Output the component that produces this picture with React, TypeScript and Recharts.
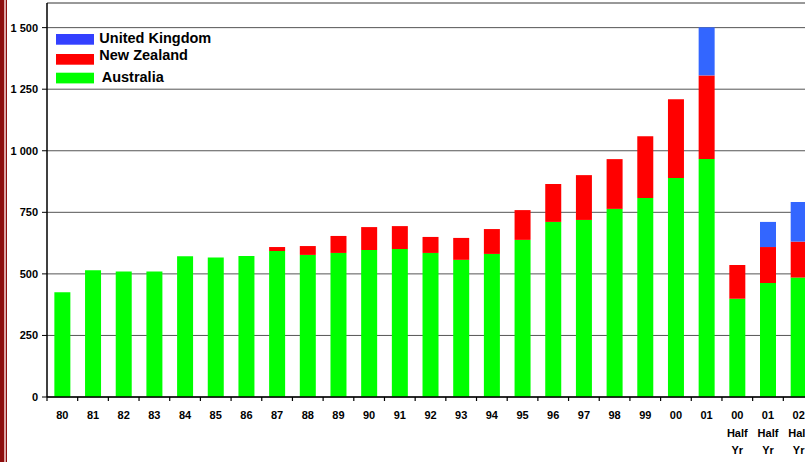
import { BarChart, Bar, XAxis, YAxis, CartesianGrid, ReferenceLine } from 'recharts';

// year labels; half-year entries are split on spaces into stacked lines
const categories = [
  '80', '81', '82', '83', '84', '85', '86', '87', '88', '89', '90', '91', '92',
  '93', '94', '95', '96', '97', '98', '99', '00', '01',
  '00 Half Yr', '01 Half Yr', '02 Half Yr',
];

const australia = [
  425, 515, 510, 510, 572, 567, 573, 593, 577, 585, 597, 601, 585,
  557, 581, 638, 711, 719, 764, 808, 889, 966,
  399, 463, 485,
];
const newZealand = [
  0, 0, 0, 0, 0, 0, 0, 16, 36, 69, 93, 93, 65,
  89, 101, 121, 154, 182, 202, 251, 320, 340,
  137, 146, 146,
];
const unitedKingdom = [
  0, 0, 0, 0, 0, 0, 0, 0, 0, 0, 0, 0, 0,
  0, 0, 0, 0, 0, 0, 0, 0, 195,
  0, 102, 161,
];

const yTicks = [0, 250, 500, 750, 1000, 1250, 1500];

const legendItems = [
  { name: 'United Kingdom', color: '#3340ff' },
  { name: 'New Zealand', color: '#ff0000' },
  { name: 'Australia', color: '#00ff00' },
];

const data = categories.map((c, i) => ({
  cat: c,
  aus: australia[i],
  nz: newZealand[i],
  uk: unitedKingdom[i],
}));

const FONT = '"Liberation Sans", Arial, sans-serif';
const CHART_W = 814;
const Y_W = 47;
const BAND = (CHART_W - Y_W) / categories.length;

function fmtY(v: number) {
  if (v >= 1000) return `${Math.floor(v / 1000)} ${String(v % 1000).padStart(3, '0')}`;
  return String(v);
}

function XTick({ x, y, payload }: { x: number; y: number; payload: { value: string } }) {
  const lines = String(payload.value).split(' ');
  const bx = x - BAND / 2;
  return (
    <g>
      <line x1={bx} x2={bx} y1={y} y2={y + 4} stroke="#000" strokeWidth={1.2} />
      <text x={x} y={y + 22} textAnchor="middle" fontSize={11} fontWeight="bold" fill="#000" fontFamily={FONT}>
        {lines.map((l, i) => (
          <tspan key={i} x={x} dy={i === 0 ? 0 : 17.5}>{l}</tspan>
        ))}
      </text>
    </g>
  );
}

export default function App() {
  return (
    <div style={{ position: 'absolute', left: 0, top: 0, width: 805, height: 462, overflow: 'hidden', background: '#fff' }}>
      <div
        style={{
          position: 'absolute', left: 0, top: 0, width: 7, height: 462,
          background: 'linear-gradient(to right, #8c0c0c 0px, #8c0c0c 4px, #dca2a2 4px, #dca2a2 6px, #8c0c0c 6px, #8c0c0c 7px)',
        }}
      />
      <BarChart
        width={CHART_W}
        height={462}
        data={data}
        margin={{ top: 3, right: 0, left: 0, bottom: 0 }}
        barCategoryGap="24%"
        style={{ fontFamily: FONT }}
      >
        <CartesianGrid vertical={false} stroke="#555" strokeWidth={1} />
        <ReferenceLine y={1600} stroke="#888" strokeWidth={1} />
        <XAxis
          dataKey="cat"
          interval={0}
          height={65}
          tickSize={0}
          tickMargin={0}
          tickLine={false}
          axisLine={{ stroke: '#000', strokeWidth: 1.5 }}
          tick={XTick as any}
        />
        <YAxis
          width={Y_W}
          domain={[0, 1600]}
          ticks={yTicks}
          interval={0}
          tickFormatter={fmtY}
          tickSize={5}
          tickMargin={4}
          tickLine={{ stroke: '#000' }}
          axisLine={{ stroke: '#000', strokeWidth: 1.5 }}
          tick={{ fontSize: 11, fontWeight: 'bold', fill: '#000', fontFamily: FONT }}
        />
        <Bar dataKey="aus" stackId="a" fill="#00ff00" isAnimationActive={false} />
        <Bar dataKey="nz" stackId="a" fill="#ff0000" isAnimationActive={false} />
        <Bar dataKey="uk" stackId="a" fill="#3366ff" isAnimationActive={false} />
      </BarChart>
      <svg style={{ position: 'absolute', left: 0, top: 0 }} width={260} height={100}>
        {legendItems.map((item, i) => {
          const top = [34, 54, 72.7][i];
          const base = [43.3, 60, 81.7][i];
          const tx = i === 2 ? 101.7 : 99.3;
          return (
            <g key={item.name}>
              <rect x={56} y={top} width={38} height={10.7} fill={item.color} />
              <text x={tx} y={base} fontSize={14.5} fontWeight="bold" fill="#000" fontFamily={FONT}>
                {item.name}
              </text>
            </g>
          );
        })}
      </svg>
    </div>
  );
}
